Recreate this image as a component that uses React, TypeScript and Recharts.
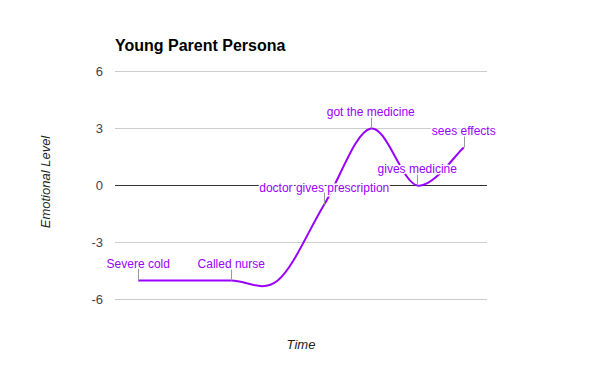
import { LineChart, Line, XAxis, YAxis, CartesianGrid, ReferenceLine } from 'recharts';

const steps = [0, 1, 2, 3, 4, 5, 6, 7];
const levels = [-5, -5, -5, -5, -1, 3, 0, 2];
const notes = ['Severe cold', '', 'Called nurse', '', 'doctor gives prescription', 'got the medicine', 'gives medicine', 'sees effects'];
const yTicks = [-6, -3, 0, 3, 6];

const data = steps.map((s, i) => ({ step: s, level: levels[i], note: notes[i] }));

const FONT = '"Liberation Sans", Arial, sans-serif';
const PURPLE = '#9900ff';

// catmull-rom style curve, like the google "function" line
const smoothCurve = (context: any) => {
    let xs: number[] = [];
    let ys: number[] = [];
    return {
        areaStart() { },
        areaEnd() { },
        lineStart() { xs = []; ys = []; },
        point(x: number, y: number) { xs.push(+x); ys.push(+y); },
        lineEnd() {
            const n = xs.length;
            if (!n) return;
            context.moveTo(xs[0], ys[0]);
            for (let i = 0; i < n - 1; i++) {
                const a = Math.max(i - 1, 0);
                const d = Math.min(i + 2, n - 1);
                context.bezierCurveTo(
                    xs[i] + (xs[i + 1] - xs[a]) / 6, ys[i] + (ys[i + 1] - ys[a]) / 6,
                    xs[i + 1] - (xs[d] - xs[i]) / 6, ys[i + 1] - (ys[d] - ys[i]) / 6,
                    xs[i + 1], ys[i + 1]
                );
            }
        },
    };
};

const NoteLabel = (props: any) => {
    const { x, y, index } = props;
    const text = notes[index];
    if (!text) return null;
    const sx = Math.round(x) + 0.5;
    return (
        <g>
            <line x1={sx} x2={sx} y1={y - 12} y2={y} stroke="#999" strokeWidth={1} />
            <text x={x} y={y - 13} textAnchor="middle" fontSize={12} fontFamily={FONT}
                fill={PURPLE} stroke="#fff" strokeWidth={3} paintOrder="stroke">
                {text}
            </text>
        </g>
    );
};

const App = () => {
    return (
        <div style={{ position: 'absolute', left: 0, top: 0, width: 600, height: 371, background: '#fff' }}>
            <LineChart width={600} height={371} data={data}
                margin={{ top: 71.5, right: 113, left: 55, bottom: 71.5 }}>
                <CartesianGrid vertical={false} stroke="#ccc" />
                <XAxis dataKey="step" type="number" domain={[-0.5, 7.5]} hide />
                <YAxis domain={[-6, 6]} ticks={yTicks} width={60} axisLine={false} tickLine={false}
                    tickSize={0} tickMargin={12}
                    tick={{ fontSize: 13, fill: '#444', fontFamily: FONT }} />
                <ReferenceLine y={0} stroke="#333" />
                <Line dataKey="level" type={smoothCurve as any} stroke={PURPLE} strokeWidth={2}
                    dot={false} activeDot={false} isAnimationActive={false} label={NoteLabel} />
            </LineChart>
            <svg width={600} height={371} style={{ position: 'absolute', left: 0, top: 0, pointerEvents: 'none' }}>
                <text x={115} y={51} fontSize={16} fontWeight="bold" fontFamily={FONT} fill="#000">
                    Young Parent Persona
                </text>
                <text transform="translate(50,182) rotate(-90)" textAnchor="middle" fontSize={13}
                    fontStyle="italic" fontFamily={FONT} fill="#222">
                    Emotional Level
                </text>
                <text x={301} y={349} textAnchor="middle" fontSize={13} fontStyle="italic"
                    fontFamily={FONT} fill="#222">
                    Time
                </text>
            </svg>
        </div>
    );
};

export default App;
